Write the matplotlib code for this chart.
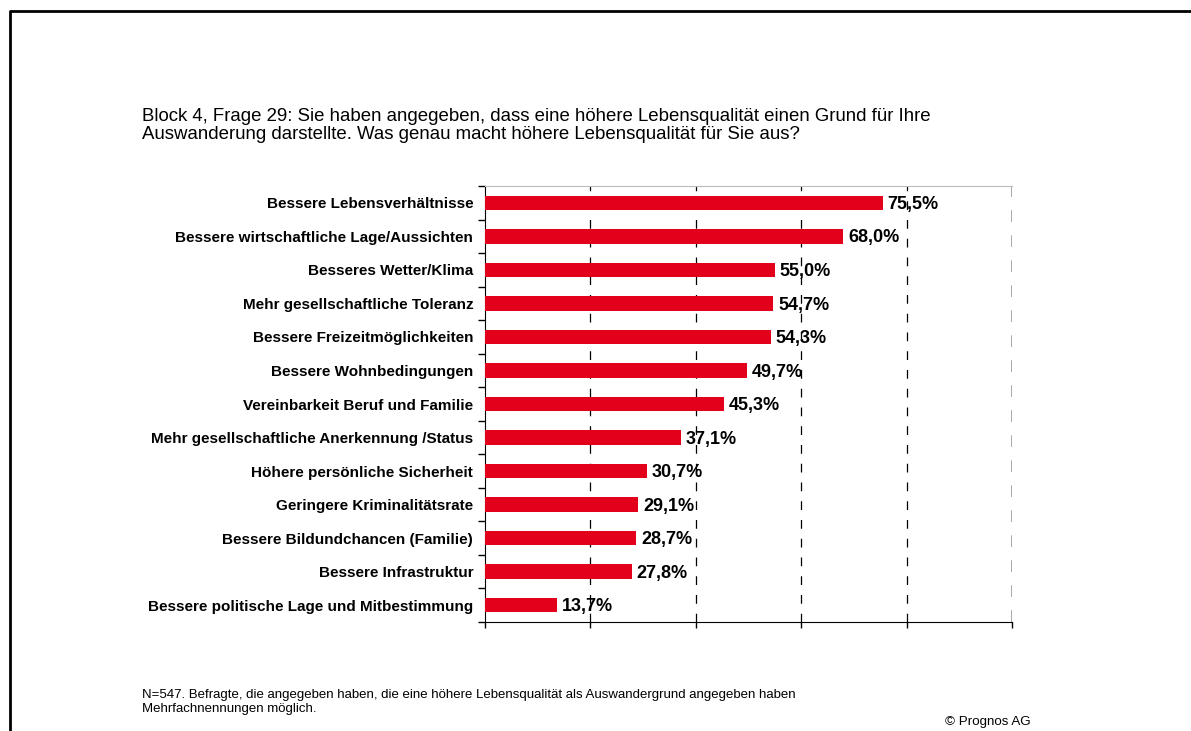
import matplotlib.pyplot as plt
from matplotlib.lines import Line2D
import numpy as np

plt.rcParams['font.family'] = ['Liberation Sans', 'DejaVu Sans']

categories = [
    "Bessere Lebensverhältnisse",
    "Bessere wirtschaftliche Lage/Aussichten",
    "Besseres Wetter/Klima",
    "Mehr gesellschaftliche Toleranz",
    "Bessere Freizeitmöglichkeiten",
    "Bessere Wohnbedingungen",
    "Vereinbarkeit Beruf und Familie",
    "Mehr gesellschaftliche Anerkennung /Status",
    "Höhere persönliche Sicherheit",
    "Geringere Kriminalitätsrate",
    "Bessere Bildundchancen (Familie)",
    "Bessere Infrastruktur",
    "Bessere politische Lage und Mitbestimmung",
]
values = [75.5, 68.0, 55.0, 54.7, 54.3, 49.7, 45.3, 37.1, 30.7, 29.1, 28.7, 27.8, 13.7]

title = ("Block 4, Frage 29: Sie haben angegeben, dass eine höhere Lebensqualität einen Grund für Ihre\n"
         "Auswanderung darstellte. Was genau macht höhere Lebensqualität für Sie aus?")
note = ("N=547. Befragte, die angegeben haben, die eine höhere Lebensqualität als Auswandergrund angegeben haben\n"
        "Mehrfachnennungen möglich.")

W, H = 1191, 731
fig = plt.figure(figsize=(W / 100, H / 100), dpi=100)
ax = fig.add_axes([485 / W, 1 - 622 / H, (1012 - 485) / W, (622 - 186) / H])

n = len(categories)
y = np.arange(n)
ax.barh(y, values, height=0.43, color="#e2001a", zorder=3)
ax.set_ylim(n - 0.5, -0.5)
ax.set_xlim(0, 100)

# Gitterlinien
for gx in [20, 40, 60, 80]:
    ax.axvline(gx, color="black", lw=0.9, ls=(0, (7, 8)), zorder=1)
ax.axvline(100, color="#999999", lw=1.2, ls=(0, (7, 8)), zorder=1)

for yi, v in zip(y, values):
    ax.text(v + 0.9, yi + 0.05, f"{v:.1f}".replace(".", ",") + "%", va="center", ha="left",
            fontsize=13, fontweight="bold", zorder=4)

ax.set_xticks([0, 20, 40, 60, 80, 100])
ax.set_xticklabels([])
ax.tick_params(axis="x", direction="out", length=4, width=1)

ax.set_yticks(np.arange(-0.5, n, 1.0))
ax.set_yticklabels([])
ax.set_yticks(y, minor=True)
ax.set_yticklabels(categories, minor=True, fontsize=11, fontweight="bold")
ax.tick_params(axis="y", which="major", direction="out", length=5, width=1)
ax.tick_params(axis="y", which="minor", length=0, pad=8.5)

ax.spines["left"].set_color("black")
ax.spines["bottom"].set_color("black")
ax.spines["top"].set_color("#bbbbbb")
ax.spines["right"].set_visible(False)

fig.text(142 / W, 1 - 108 / H, title, fontsize=13.4, ha="left", va="top", linespacing=1.08)
fig.text(142 / W, 1 - 689 / H, note, fontsize=9.5, ha="left", va="top", linespacing=1.22)
fig.text(945 / W, 1 - 716 / H, "© Prognos AG", fontsize=9.6, ha="left", va="top")

# Rahmen
fig.add_artist(Line2D([9.5 / W, 9.5 / W, 1], [0, 1 - 11 / H, 1 - 11 / H],
                      transform=fig.transFigure, color="black", lw=2))

fig.savefig("out.png", dpi=100)
